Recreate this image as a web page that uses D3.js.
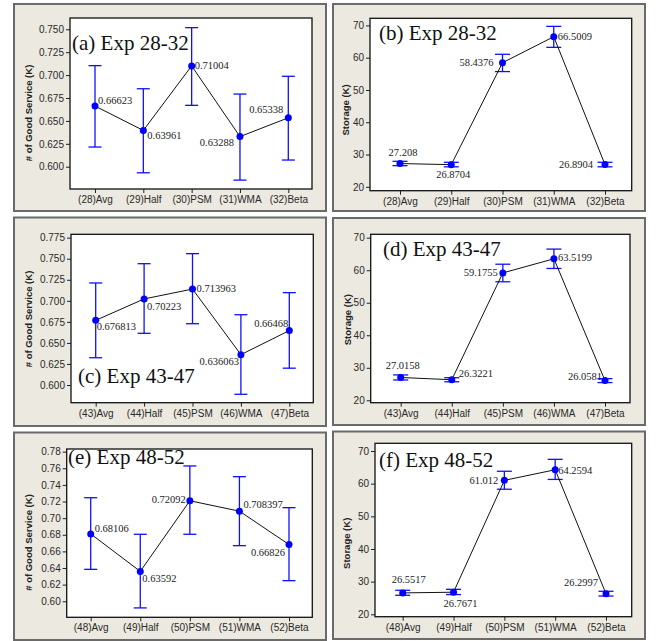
<!DOCTYPE html>
<html>
<head>
<meta charset="utf-8">
<script src="https://cdn.jsdelivr.net/npm/d3@7/dist/d3.min.js"></script>
<style>
  body { margin: 0; background: #fff; }
  svg { display: block; }
  .tick text { font-family: "Liberation Sans", Arial, sans-serif; font-size: 10px; fill: #2a2a2a; }
  .val { font-family: "Liberation Serif", "Times New Roman", serif; font-size: 10.5px; fill: #222; }
  .ttl { font-family: "Liberation Serif", "Times New Roman", serif; font-size: 21px; fill: #111; }
  .ylab { font-family: "Liberation Sans", Arial, sans-serif; font-size: 9.5px; font-weight: bold; fill: #222; }
</style>
</head>
<body>
<div id="chart"></div>
<script>
// categories for each row
const catsA = ['(28)Avg', '(29)Half', '(30)PSM', '(31)WMA', '(32)Beta'];
const catsC = ['(43)Avg', '(44)Half', '(45)PSM', '(46)WMA', '(47)Beta'];
const catsE = ['(48)Avg', '(49)Half', '(50)PSM', '(51)WMA', '(52)Beta'];

// # of good service (K), mean and interval ends
const goodA = [0.66623, 0.63961, 0.71004, 0.63288, 0.65338];
const goodLowA = [0.6215, 0.5934, 0.667, 0.5854, 0.6073];
const goodHighA = [0.7103, 0.6851, 0.7518, 0.6793, 0.6987];

const goodC = [0.676813, 0.70223, 0.713963, 0.636063, 0.66468];
const goodLowC = [0.6324, 0.6614, 0.6728, 0.589, 0.620];
const goodHighC = [0.7212, 0.7441, 0.756, 0.6835, 0.7097];

const goodE = [0.68106, 0.63592, 0.72092, 0.708397, 0.66826];
const goodLowE = [0.6384, 0.592, 0.6806, 0.6669, 0.6248];
const goodHighE = [0.7246, 0.6806, 0.7628, 0.7499, 0.7126];

// storage (K)
const storB = [27.208, 26.8704, 58.4376, 66.5009, 26.8904];
const storLowB = [26.55, 26.2, 55.7, 63.2, 26.2];
const storHighB = [27.9, 27.6, 61.05, 69.7, 27.6];

const storD = [27.0158, 26.3221, 59.1755, 63.5199, 26.0581];
const storLowD = [26.25, 25.7, 56.45, 60.55, 25.45];
const storHighD = [27.8, 26.95, 61.85, 66.5, 26.65];

const storF = [26.5517, 26.7671, 61.012, 64.2594, 26.2997];
const storLowF = [25.83, 26.05, 58.3, 61.3, 25.6];
const storHighF = [27.36, 27.65, 63.8, 67.45, 27.05];

// tick values
const ticksGood025 = [0.600, 0.625, 0.650, 0.675, 0.700, 0.725, 0.750];
const ticksGood025b = [0.600, 0.625, 0.650, 0.675, 0.700, 0.725, 0.750, 0.775];
const ticksGood02 = [0.60, 0.62, 0.64, 0.66, 0.68, 0.70, 0.72, 0.74, 0.76, 0.78];
const ticksStorage = [20, 30, 40, 50, 60, 70];

const titles = ['(a) Exp 28-32', '(b) Exp 28-32', '(c) Exp 43-47', '(d) Exp 43-47', '(e) Exp 48-52', '(f) Exp 48-52'];
const yLabels = ['# of Good Service (K)', 'Storage (K)'];

// panel layout (pixels) and label placement [dx, dy, anchor]
const panels = [
  { title: titles[0], cats: catsA, v: goodA, lo: goodLowA, hi: goodHighA, ticks: ticksGood025, fmt: '.3f', ylab: yLabels[0],
    box: [14, 4, 326, 211], plot: [70, 18, 312, 189], y: [0.5757, 0.7623], xr: [95, 288.3],
    ylx: 29, yly: 113, tt: [72, 50], cap: 6.5,
    lab: [[3, -2, 'start'], [4, 9, 'start'], [3, 3, 'start'], [-6, 9, 'end'], [-5, -5, 'end']] },
  { title: titles[1], cats: catsA, v: storB, lo: storLowB, hi: storHighB, ticks: ticksStorage, fmt: 'd', ylab: yLabels[1],
    box: [333, 4, 645, 211], plot: [370, 18.3, 631.7, 190.7], y: [18.8, 72.2], xr: [400, 605],
    ylx: 345.7, yly: 110, tt: [379, 40], cap: 7.5,
    lab: [[3, -8, 'middle'], [2, 13, 'middle'], [-9, 3, 'end'], [4, 3, 'start'], [-12, 3, 'end']] },
  { title: titles[2], cats: catsC, v: goodC, lo: goodLowC, hi: goodHighC, ticks: ticksGood025b, fmt: '.3f', ylab: yLabels[0],
    box: [14, 217.5, 326, 426], plot: [71, 234.3, 313.3, 402.7], y: [0.579, 0.779], xr: [95.7, 289.3],
    ylx: 29, yly: 319, tt: [78, 383], cap: 6.5,
    lab: [[1, 10, 'start'], [3, 11, 'start'], [4, 3, 'start'], [-2, 10, 'end'], [-1, -4, 'end']] },
  { title: titles[3], cats: catsC, v: storD, lo: storLowD, hi: storHighD, ticks: ticksStorage, fmt: 'd', ylab: yLabels[1],
    box: [333, 218, 645, 425], plot: [370.7, 234.3, 630, 402.7], y: [19.26, 71.05], xr: [400.7, 605],
    ylx: 347.3, yly: 319.7, tt: [383, 255.5], cap: 7.5,
    lab: [[2, -8, 'middle'], [7, -3, 'start'], [-5, 3, 'end'], [4, 2, 'start'], [-3, -1, 'end']] },
  { title: titles[4], cats: catsE, v: goodE, lo: goodLowE, hi: goodHighE, ticks: ticksGood02, fmt: '.2f', ylab: yLabels[0],
    box: [14, 432.5, 326, 640], plot: [66.7, 449, 312.3, 617.3], y: [0.5807, 0.7832], xr: [90.7, 289],
    ylx: 29, yly: 542.5, tt: [68, 464], cap: 6.5,
    lab: [[4, -2, 'start'], [2, 11, 'start'], [-4, 2, 'end'], [4, -3, 'start'], [-4, 11, 'end']] },
  { title: titles[5], cats: catsE, v: storF, lo: storLowF, hi: storHighF, ticks: ticksStorage, fmt: 'd', ylab: yLabels[1],
    box: [333, 431.5, 645, 639], plot: [375, 443.3, 631.7, 616.7], y: [19.27, 72.36], xr: [402.7, 606],
    ylx: 346.7, yly: 543.3, tt: [379, 466.5], cap: 7.5,
    lab: [[6, -10, 'middle'], [7, 15, 'middle'], [-6, 4, 'end'], [3, 4, 'start'], [-8, -8, 'end']] }
];

const svg = d3.select('#chart').append('svg')
  .attr('width', 657)
  .attr('height', 641);

panels.forEach((p) => {
  const g = svg.append('g');
  const [bx0, by0, bx1, by1] = p.box;
  const [px0, py0, px1, py1] = p.plot;

  // beige panel with gray frame
  g.append('rect')
    .attr('x', bx0).attr('y', by0)
    .attr('width', bx1 - bx0).attr('height', by1 - by0)
    .attr('fill', '#ECE9E0')
    .attr('stroke', '#6a6a6a')
    .attr('stroke-width', 2);

  g.append('rect')
    .attr('x', px0).attr('y', py0)
    .attr('width', px1 - px0).attr('height', py1 - py0)
    .attr('fill', '#fff');

  const x = d3.scalePoint().domain(p.cats).range(p.xr);
  const y = d3.scaleLinear().domain(p.y).range([py1, py0]);

  const yAxis = d3.axisLeft(y).tickValues(p.ticks).tickFormat(d3.format(p.fmt)).tickSize(4).tickPadding(2);
  g.append('g')
    .attr('transform', 'translate(' + px0 + ',0)')
    .call(yAxis)
    .call(s => s.select('.domain').remove())
    .call(s => s.selectAll('.tick line').attr('stroke', '#222'));

  const xAxis = d3.axisBottom(x).tickSize(4).tickPadding(3);
  g.append('g')
    .attr('transform', 'translate(0,' + py1 + ')')
    .call(xAxis)
    .call(s => s.select('.domain').remove())
    .call(s => s.selectAll('.tick line').attr('stroke', '#222'));

  // plot frame
  g.append('rect')
    .attr('x', px0).attr('y', py0)
    .attr('width', px1 - px0).attr('height', py1 - py0)
    .attr('fill', 'none')
    .attr('stroke', '#111')
    .attr('stroke-width', 1.3);

  g.append('text')
    .attr('class', 'ylab')
    .attr('transform', 'translate(' + p.ylx + ',' + p.yly + ') rotate(-90)')
    .attr('text-anchor', 'middle')
    .attr('dy', '0.35em')
    .text(p.ylab);

  const rows = p.cats.map((c, i) => ({ c: c, v: p.v[i], lo: p.lo[i], hi: p.hi[i], lab: p.lab[i] }));

  // error bars
  const eb = g.append('g').attr('stroke', '#1010ff').attr('stroke-width', 1.3).attr('fill', 'none');
  rows.forEach((d) => {
    const cx = x(d.c);
    eb.append('line').attr('x1', cx).attr('x2', cx).attr('y1', y(d.lo)).attr('y2', y(d.hi));
    eb.append('line').attr('x1', cx - p.cap).attr('x2', cx + p.cap).attr('y1', y(d.lo)).attr('y2', y(d.lo));
    eb.append('line').attr('x1', cx - p.cap).attr('x2', cx + p.cap).attr('y1', y(d.hi)).attr('y2', y(d.hi));
  });

  const line = d3.line().x(d => x(d.c)).y(d => y(d.v));
  g.append('path')
    .datum(rows)
    .attr('d', line)
    .attr('fill', 'none')
    .attr('stroke', '#111')
    .attr('stroke-width', 1);

  g.selectAll('circle.pt')
    .data(rows)
    .enter().append('circle')
    .attr('class', 'pt')
    .attr('cx', d => x(d.c))
    .attr('cy', d => y(d.v))
    .attr('r', 3.5)
    .attr('fill', '#0000ff');

  g.selectAll('text.val')
    .data(rows)
    .enter().append('text')
    .attr('class', 'val')
    .attr('x', d => x(d.c) + d.lab[0])
    .attr('y', d => y(d.v) + d.lab[1])
    .attr('text-anchor', d => d.lab[2])
    .text(d => String(d.v));

  g.append('text')
    .attr('class', 'ttl')
    .attr('x', p.tt[0])
    .attr('y', p.tt[1])
    .text(p.title);
});
</script>
</body>
</html>
